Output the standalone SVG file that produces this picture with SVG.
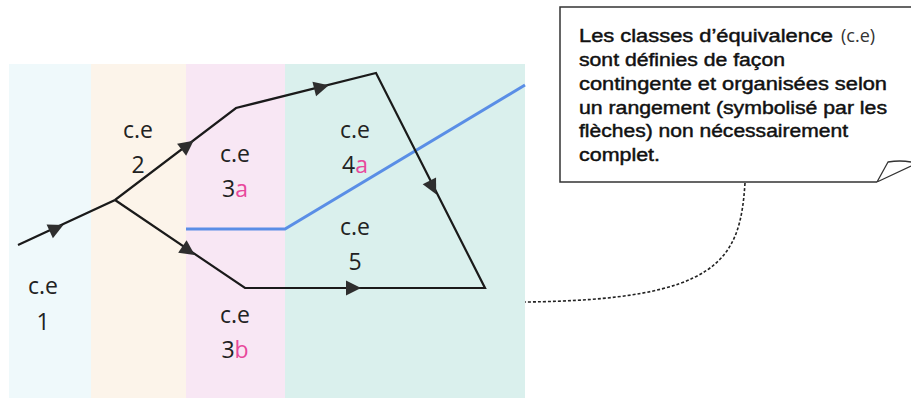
<svg xmlns="http://www.w3.org/2000/svg" xmlns:xlink="http://www.w3.org/1999/xlink" width="911" height="398" viewBox="0 0 911 398">
<style>
.lbl{font-family:"Open Sans","DejaVu Sans",sans-serif;font-size:23px;fill:#222;text-anchor:middle}
.pk{fill:#e8489c}
.note{font-family:"Liberation Sans",Arial,sans-serif;font-size:18px;fill:#111;stroke:#111;stroke-width:0.45}
.path{fill:none;stroke:#1a1a1a;stroke-width:2.2;stroke-linejoin:miter}
.blue{fill:none;stroke:#5a8ee6;stroke-width:3}
.arr{fill:#2e2e2e}
</style>
<defs>
<path id="ah" d="M7,0 L-8,-7.5 L-8,7.5 Z"/>
</defs>
<rect width="911" height="398" fill="#ffffff"/>
<g id="ce1">
<rect x="9" y="64" width="82" height="334" fill="#eff9fb"/>
<text class="lbl" x="43" y="294">c.e</text>
<text class="lbl" x="43" y="330">1</text>
</g>
<g id="ce2">
<rect x="91" y="64" width="95" height="334" fill="#fcf4ea"/>
<text class="lbl" x="138" y="138">c.e</text>
<text class="lbl" x="138" y="173">2</text>
</g>
<g id="ce3">
<rect x="186" y="64" width="99" height="334" fill="#f8e7f4"/>
<text class="lbl" x="235" y="162">c.e</text>
<text class="lbl" x="235" y="197">3<tspan class="pk">a</tspan></text>
<text class="lbl" x="235" y="323">c.e</text>
<text class="lbl" x="235" y="358">3<tspan class="pk">b</tspan></text>
</g>
<g id="ce45">
<rect x="285" y="64" width="240" height="334" fill="#daf0ed"/>
<text class="lbl" x="355" y="138">c.e</text>
<text class="lbl" x="355" y="173">4<tspan class="pk">a</tspan></text>
<text class="lbl" x="355" y="235">c.e</text>
<text class="lbl" x="355" y="270">5</text>
</g>
<g id="connectors">
<polyline class="blue" points="186,229 285,229 525,85"/>
<polyline class="path" points="18,245 115,200 236,108 376,73 485,288 245,288 115,200"/>
<use xlink:href="#ah" class="arr" transform="translate(57,228) rotate(-24.9)"/>
<use xlink:href="#ah" class="arr" transform="translate(188,145) rotate(-37.2)"/>
<use xlink:href="#ah" class="arr" transform="translate(322,87) rotate(-14.1)"/>
<use xlink:href="#ah" class="arr" transform="translate(433,188) rotate(63)"/>
<use xlink:href="#ah" class="arr" transform="translate(189,251) rotate(34.1)"/>
<use xlink:href="#ah" class="arr" transform="translate(354,288) rotate(0)"/>
<path d="M745,183 C740,260 720,300 525,302" fill="none" stroke="#222" stroke-width="1.6" stroke-dasharray="3 2"/>
</g>
<g id="note">
<path d="M911,7 L560,7 L560,182 L877,182" fill="none" stroke="#333" stroke-width="1.5"/>
<path d="M877,182 L888,162 Q900,160 911,162 M877,182 L911,166" fill="none" stroke="#333" stroke-width="1.3"/>
<text class="note" x="579" y="42" textLength="254" lengthAdjust="spacingAndGlyphs">Les classes d’équivalence</text>
<text x="841" y="42" style="font-family:'Open Sans',sans-serif;font-size:18px;fill:#333">(c.e)</text>
<text class="note" x="579" y="66" textLength="206" lengthAdjust="spacingAndGlyphs">sont définies de façon</text>
<text class="note" x="579" y="90" textLength="308" lengthAdjust="spacingAndGlyphs">contingente et organisées selon</text>
<text class="note" x="579" y="113.5" textLength="308" lengthAdjust="spacingAndGlyphs">un rangement (symbolisé par les</text>
<text class="note" x="579" y="137" textLength="269" lengthAdjust="spacingAndGlyphs">flèches) non nécessairement</text>
<text class="note" x="579" y="161" textLength="81" lengthAdjust="spacingAndGlyphs">complet.</text>
</g>
</svg>
